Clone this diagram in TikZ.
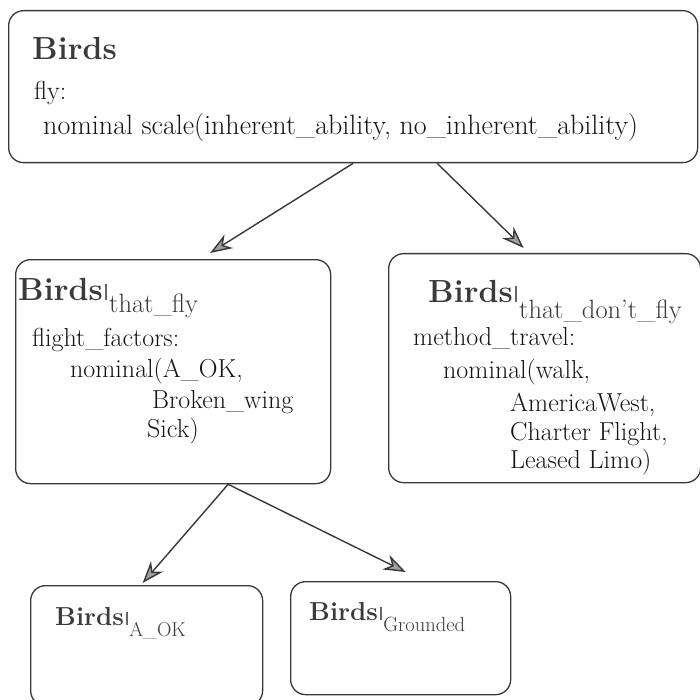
\documentclass[tikz,border=0pt]{standalone}
\usetikzlibrary{arrows.meta}
\definecolor{linec}{HTML}{383838}
\definecolor{inkc}{HTML}{141414}
\definecolor{headc}{HTML}{3A3A3A}
\newcommand{\condbar}[1]{\textcolor{black!60}{\rule{2.4pt}{#1}}}
\begin{document}
\begin{tikzpicture}[x=1pt,y=-1pt,
  frame/.style={draw=linec, line width=1.3pt, rounded corners=15pt,
    anchor=north west, inner sep=0pt},
  txt/.style={anchor=base west, inner sep=0pt, text=inkc,
    font=\fontsize{26}{30}\selectfont},
  ttl/.style={anchor=base west, inner sep=0pt, text=headc,
    font=\fontsize{32}{36}\selectfont\bfseries},
  ttlsmall/.style={anchor=base west, inner sep=0pt, text=headc,
    font=\fontsize{26}{30}\selectfont\bfseries},
  link/.style={draw=linec, line width=1.4pt,
    -{Stealth[length=22pt,width=16pt,inset=7pt,fill=gray!75]}}]
\useasboundingbox (0,0) rectangle (699,700);

% boxes
\node[frame, minimum width=689pt, minimum height=152pt] (root) at (8,10) {};
\node[frame, minimum width=315pt, minimum height=224pt] (fly) at (15,259) {};
\node[frame, minimum width=312pt, minimum height=229pt] (nofly) at (388,253) {};
\node[frame, minimum width=232pt, minimum height=120pt] (aok) at (30,585) {};
\node[frame, minimum width=220pt, minimum height=113pt] (grounded) at (290,581) {};

% root contents
\node[ttl] (rootT) at (32,60) {Birds};
\node[txt] (rootA) at (34,100) {fly:};
\node[txt, font=\fontsize{28}{32}\selectfont] (rootB) at (43,135) {nominal scale(inherent\_ability, no\_inherent\_ability)};

% birds that fly
\node[ttl] (flyT) at (18,300) {Birds\hspace{2pt}\condbar{16pt}\hspace{2pt}\raisebox{-12pt}{\fontsize{26.5}{30}\mdseries that\_fly}};
\node[txt] (flyA) at (32,346) {flight\_factors:};
\node[txt] (flyB) at (70,377) {nominal(A\_OK,};
\node[txt] (flyC) at (152,408) {Broken\_wing};
\node[txt] (flyD) at (147,437) {Sick)};

% birds that don't fly
\node[ttl] (noflyT) at (428,302) {Birds\hspace{2pt}\condbar{16pt}\hspace{2pt}\raisebox{-16pt}{\fontsize{26.5}{30}\mdseries that\_don't\_fly}};
\node[txt] (noflyA) at (413,345) {method\_travel:};
\node[txt] (noflyB) at (443,378) {nominal(walk,};
\node[txt] (noflyC) at (510,411) {AmericaWest,};
\node[txt] (noflyD) at (510,440) {Charter Flight,};
\node[txt] (noflyE) at (510,468) {Leased Limo)};

% leaf partitions
\node[ttlsmall] (aokT) at (55,625) {Birds\hspace{2pt}\condbar{13pt}\hspace{1pt}\raisebox{-11pt}{\fontsize{20}{24}\mdseries A\_OK}};
\node[ttlsmall] (groundedT) at (309,620) {Birds\hspace{2pt}\condbar{13pt}\hspace{1pt}\raisebox{-11pt}{\fontsize{20.5}{24}\mdseries Grounded}};

% connectors
\coordinate (r1) at (root.south);
\coordinate (r2) at ([xshift=84pt]root.south);
\coordinate (f1) at ([xshift=55pt]fly.south);
\draw[link] (r1) -- ([xshift=37pt,yshift=6pt]fly.north);
\draw[link] (r2) -- ([xshift=-21pt,yshift=5pt]nofly.north);
\draw[link] (f1) -- ([xshift=-4pt,yshift=2pt]aok.north);
\draw[link] (f1) -- ([xshift=5pt,yshift=9pt]grounded.north);
\end{tikzpicture}
\end{document}
